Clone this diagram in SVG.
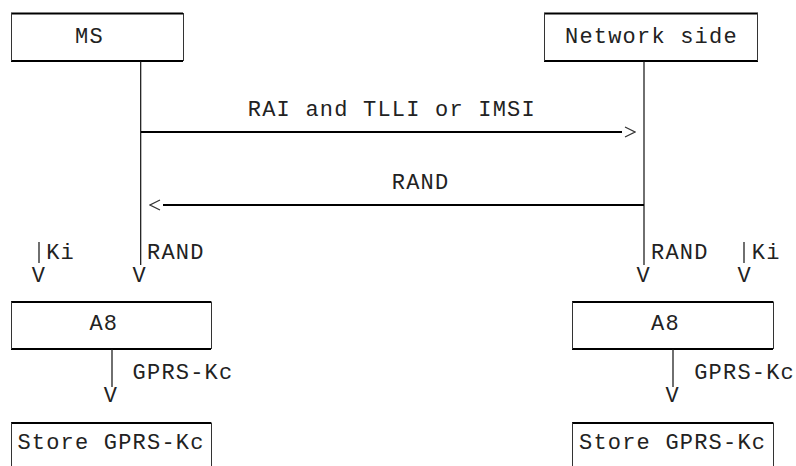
<svg xmlns="http://www.w3.org/2000/svg" width="796" height="466" viewBox="0 0 796 466">
<defs>
<style>
text{font-family:"Liberation Mono","DejaVu Sans Mono",monospace;font-size:22px;letter-spacing:1.2px;fill:#222}
.hl{stroke:#000;stroke-width:2;fill:none}
.vl{stroke:#333;stroke-width:1;fill:none}
.ln{stroke:#111;stroke-width:1.2;fill:none}
.msg{stroke:#000;stroke-width:2;fill:none}
</style>
<marker id="open" viewBox="0 -6 14 12" refX="0" refY="0" markerWidth="14" markerHeight="12" markerUnits="userSpaceOnUse" orient="auto">
<path d="M3,-5 L13,0 L3,5" fill="none" stroke="#333" stroke-width="1.2"/>
</marker>
</defs>
<rect width="796" height="466" fill="#fff"/>

<g id="ms">
<path class="hl" d="M11,13.5 H183 M11,61 H183"/>
<path class="vl" d="M11.5,13 V61 M183.5,13 V61"/>
<text x="75" y="43">MS</text>
</g>

<g id="network">
<path class="hl" d="M544,13.5 H758 M544,61 H758"/>
<path class="vl" d="M544.5,13 V61 M757.5,13 V61"/>
<text x="565" y="43">Network side</text>
</g>

<g id="a8-ms">
<path class="hl" d="M11,302 H211 M11,349 H211"/>
<path class="vl" d="M11.5,301.5 V349 M211.5,301.5 V349"/>
<text x="89.4" y="330">A8</text>
</g>

<g id="a8-net">
<path class="hl" d="M572,302 H773 M572,349 H773"/>
<path class="vl" d="M572.5,301.5 V349 M773.5,301.5 V349"/>
<text x="651" y="330">A8</text>
</g>

<g id="store-ms">
<path class="hl" d="M11,423 H211"/>
<path class="vl" d="M11.5,422.5 V470 M211.5,422.5 V470"/>
<text x="17.4" y="449">Store GPRS-Kc</text>
</g>

<g id="store-net">
<path class="hl" d="M572,423 H773"/>
<path class="vl" d="M572.5,422.5 V470 M773.5,422.5 V470"/>
<text x="579" y="449">Store GPRS-Kc</text>
</g>

<g id="connectors">
<!-- lifelines -->
<path class="ln" d="M140.7,61 V265 M644,61 V265"/>
<!-- messages -->
<path class="msg" d="M141,132 H622" marker-end="url(#open)"/>
<text x="247.8" y="116">RAI and TLLI or IMSI</text>
<path class="msg" d="M644,205 H163" marker-end="url(#open)"/>
<text x="391.8" y="189">RAND</text>
<!-- inputs to A8 -->
<path class="ln" d="M39,242 V263 M744,242 V263"/>
<text x="46.2" y="259">Ki</text>
<text x="147" y="259">RAND</text>
<text x="651" y="259">RAND</text>
<text x="751.8" y="259">Ki</text>
<text x="31.8" y="282">V</text>
<text x="132.6" y="282">V</text>
<text x="636.6" y="282">V</text>
<text x="737.4" y="282">V</text>
<!-- outputs of A8 -->
<path class="ln" d="M112,349 V387 M673,349 V387"/>
<text x="132.6" y="379">GPRS-Kc</text>
<text x="694.2" y="379">GPRS-Kc</text>
<text x="103.8" y="402">V</text>
<text x="665.4" y="402">V</text>
</g>
</svg>
